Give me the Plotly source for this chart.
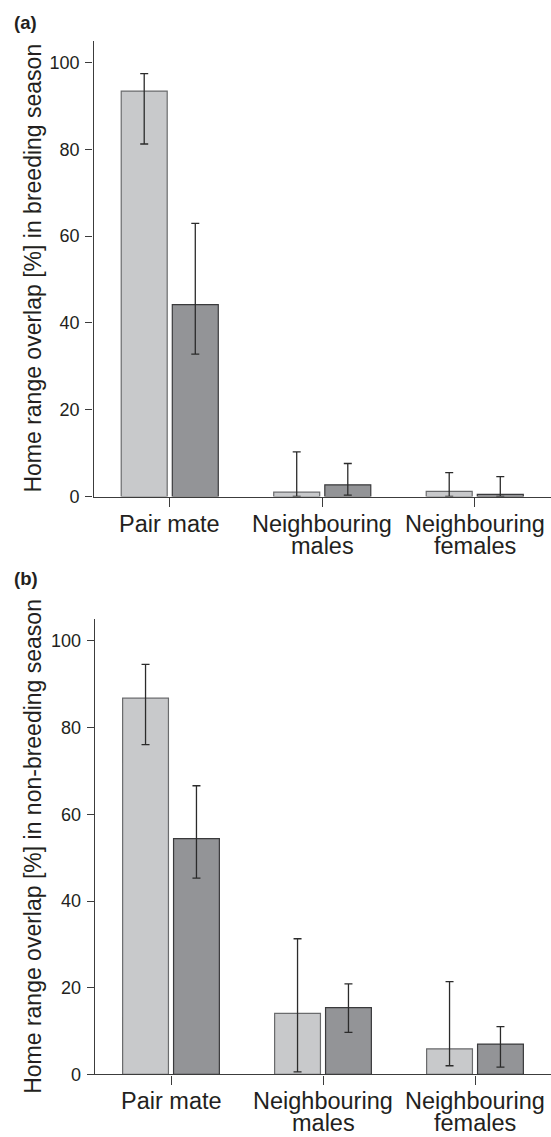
import plotly.graph_objects as go

# ---------------- data ----------------
categories = ["Pair mate", "Neighbouring males", "Neighbouring females"]
label_line1 = ["Pair mate", "Neighbouring", "Neighbouring"]
label_line2 = ["", "males", "females"]
y_ticks = [0, 20, 40, 60, 80, 100]

# (a) breeding season
a_light_mean = [93.4, 1.0, 1.2]
a_light_low = [81.2, 0.0, 0.0]
a_light_high = [97.4, 10.3, 5.5]
a_dark_mean = [44.2, 2.7, 0.5]
a_dark_low = [32.8, 0.3, 0.0]
a_dark_high = [62.9, 7.6, 4.6]

# (b) non-breeding season
b_light_mean = [86.8, 14.1, 5.9]
b_light_low = [76.1, 0.6, 2.0]
b_light_high = [94.6, 31.3, 21.4]
b_dark_mean = [54.4, 15.4, 7.0]
b_dark_low = [45.3, 9.7, 1.7]
b_dark_high = [66.6, 20.9, 11.0]

panel_titles = ["Home range overlap [%] in breeding season",
                "Home range overlap [%] in non-breeding season"]

# ---------------- style ----------------
W, H = 551, 1137
FONT = "Liberation Sans, Arial, Helvetica, sans-serif"
TXT = "#231f20"
LIGHT = "#c8c9cb"
DARK = "#939497"
LIGHT_EDGE = "#6a6b6d"
DARK_EDGE = "#3a3a3c"
ERR = "#2b2b2b"
AX = "#3c3c3c"

fig = go.Figure()


def add_bar(mean, low, high, fill, edge, xa, ya):
    plus = [h - m for h, m in zip(high, mean)]
    minus = [m - l for m, l in zip(mean, low)]
    fig.add_trace(go.Bar(
        x=categories, y=mean, xaxis=xa, yaxis=ya,
        marker=dict(color=fill, line=dict(color=edge, width=1.2)),
        error_y=dict(type="data", symmetric=False, array=plus, arrayminus=minus,
                     color=ERR, thickness=1.3, width=4),
        showlegend=False,
    ))


add_bar(a_light_mean, a_light_low, a_light_high, LIGHT, LIGHT_EDGE, "x", "y")
add_bar(a_dark_mean, a_dark_low, a_dark_high, DARK, DARK_EDGE, "x", "y")
add_bar(b_light_mean, b_light_low, b_light_high, LIGHT, LIGHT_EDGE, "x2", "y2")
add_bar(b_dark_mean, b_dark_low, b_dark_high, DARK, DARK_EDGE, "x2", "y2")
# empty traces so the label-only overlay axes get drawn
fig.add_trace(go.Scatter(x=[], y=[], xaxis="x", yaxis="y3", showlegend=False, hoverinfo="skip"))
fig.add_trace(go.Scatter(x=[], y=[], xaxis="x2", yaxis="y4", showlegend=False, hoverinfo="skip"))

xdom = [[93.5 / W, 1.0], [95.0 / W, 1.0]]
ydom = [[1 - 496.5 / H, 1 - 40.7 / H], [1 - 1074.4 / H, 1 - 619.3 / H]]
label_pos = [79.5 / W, 81.0 / W]

axis_common_x = dict(type="category", categoryorder="array", categoryarray=categories,
                     range=[-0.5, 2.5], showline=True, linecolor=AX, linewidth=1.3,
                     ticks="outside", ticklen=9, tickwidth=1.3, tickcolor=AX,
                     showticklabels=False, showgrid=False, zeroline=False,
                     automargin=False, fixedrange=True)
axis_common_y = dict(range=[0, 105], tickvals=y_ticks, showline=True, linecolor=AX,
                     linewidth=1.3, ticks="outside", ticklen=7, tickwidth=1.3,
                     tickcolor=AX, showgrid=False, zeroline=False, showticklabels=False,
                     automargin=False, fixedrange=True)
# overlay axes that only carry the tick labels (placed a little left of the axis line)
axis_label_y = dict(range=[0, 105], tickvals=y_ticks, showline=False, ticks="",
                    showgrid=False, zeroline=False, anchor="free", side="left",
                    automargin=False, fixedrange=True,
                    tickfont=dict(family=FONT, size=18, color=TXT))

layout = dict(
    width=W, height=H, margin=dict(l=0, r=0, t=0, b=0),
    paper_bgcolor="white", plot_bgcolor="white",
    barmode="group", bargap=0.33, bargroupgap=0.1,
    font=dict(family=FONT, color=TXT),
    xaxis=dict(domain=xdom[0], anchor="y", **axis_common_x),
    yaxis=dict(domain=ydom[0], anchor="x", **axis_common_y),
    xaxis2=dict(domain=xdom[1], anchor="y2", **axis_common_x),
    yaxis2=dict(domain=ydom[1], anchor="x2", **axis_common_y),
    yaxis3=dict(domain=ydom[0], overlaying="y", position=label_pos[0], **axis_label_y),
    yaxis4=dict(domain=ydom[1], overlaying="y2", position=label_pos[1], **axis_label_y),
)
fig.update_layout(**layout)

annotations = []
for i, (xr, yr) in enumerate([("x", "y"), ("x2", "y2")]):
    for c, l1, l2 in zip(categories, label_line1, label_line2):
        annotations.append(dict(x=c, y=0, xref=xr, yref=yr, text=l1, showarrow=False,
                                xanchor="center", yanchor="top", yshift=-12,
                                font=dict(family=FONT, size=23.5, color=TXT)))
        if l2:
            annotations.append(dict(x=c, y=0, xref=xr, yref=yr, text=l2, showarrow=False,
                                    xanchor="center", yanchor="top", yshift=-34,
                                    font=dict(family=FONT, size=23.5, color=TXT)))
    annotations.append(dict(x=33 / W, y=0.5, xref="paper", yref=f"{yr} domain",
                            text=panel_titles[i], textangle=-90, showarrow=False,
                            xanchor="center", yanchor="middle",
                            font=dict(family=FONT, size=23, color=TXT)))
annotations.append(dict(x=12 / W, y=1 - 22 / H, xref="paper", yref="paper", text="<b>(a)</b>",
                        showarrow=False, xanchor="left", yanchor="middle",
                        font=dict(family=FONT, size=18.5, color=TXT)))
annotations.append(dict(x=12 / W, y=1 - 578 / H, xref="paper", yref="paper", text="<b>(b)</b>",
                        showarrow=False, xanchor="left", yanchor="middle",
                        font=dict(family=FONT, size=18.5, color=TXT)))
fig.update_layout(annotations=annotations)

fig.write_html("out.html", config={"displayModeBar": False},
               post_script="document.body.style.margin='0';document.body.style.overflow='hidden';")
